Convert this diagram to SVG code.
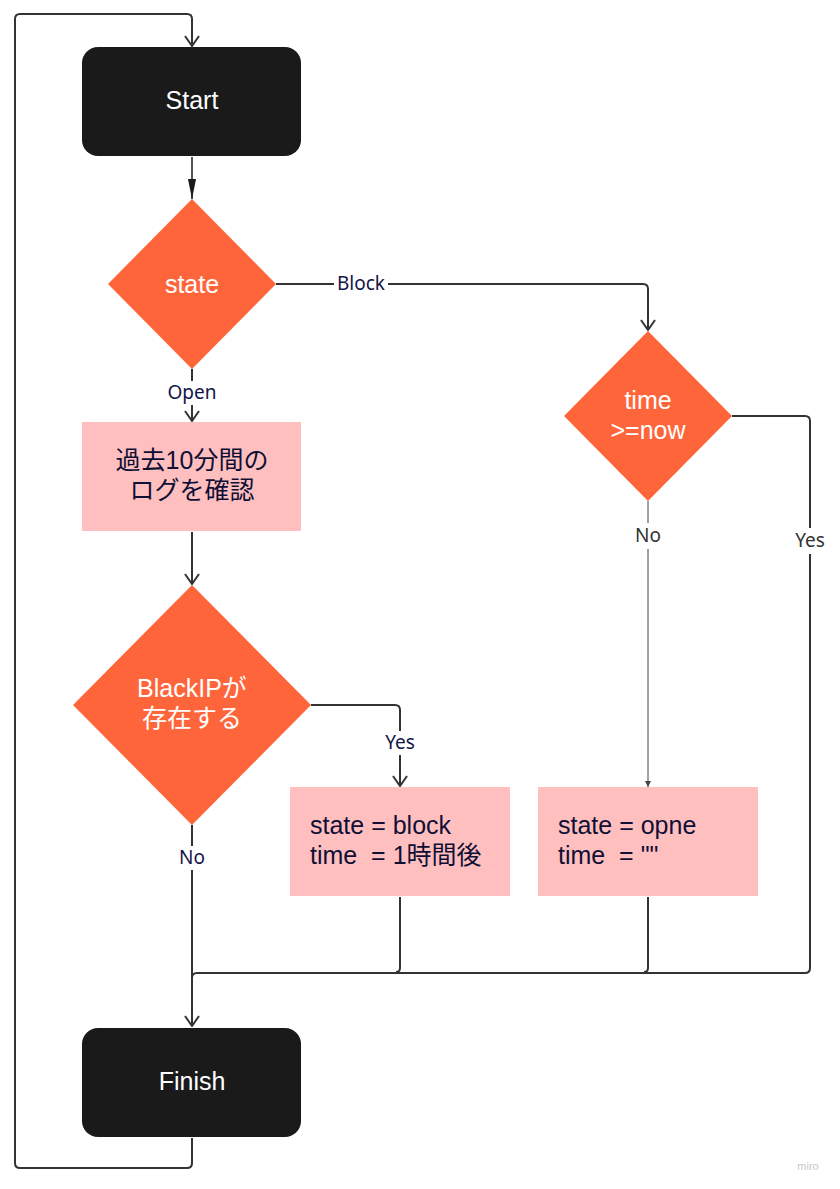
<svg xmlns="http://www.w3.org/2000/svg" width="840" height="1189" viewBox="0 0 840 1189">
<defs>
<style>
.term{fill:#1a1a1a}
.dec{fill:#ff653b}
.proc{fill:#ffbfbf}
.tw{fill:#ffffff;font-family:"Liberation Sans","Noto Sans CJK JP",sans-serif;font-size:25px;text-anchor:middle}
.tb{fill:#0f0f35;font-family:"Liberation Sans","Noto Sans CJK JP",sans-serif;font-size:25px}
.lbl{fill:#14144a;font-family:"Noto Sans","Noto Sans CJK JP",sans-serif;font-size:19px;text-anchor:middle}
.lblg{fill:#333333;font-family:"Noto Sans",sans-serif;font-size:19px;text-anchor:middle}
.ln{fill:none;stroke:#333333;stroke-width:2}
.thin{fill:none;stroke:#444444;stroke-width:1}
.bg{fill:#ffffff}
</style>
<marker id="open" viewBox="0 0 12 16" refX="11" refY="8" markerWidth="12" markerHeight="16" markerUnits="userSpaceOnUse" orient="auto">
<path d="M1,1 L11,8 L1,15" fill="none" stroke="#333333" stroke-width="2"/>
</marker>
<marker id="solid" viewBox="0 0 20 10" refX="20" refY="5" markerWidth="20" markerHeight="10" markerUnits="userSpaceOnUse" orient="auto">
<path d="M0,1 L20,5 L0,9 Z" fill="#1a1a1a"/>
</marker>
<marker id="small" viewBox="0 0 6 6" refX="6" refY="3" markerWidth="6" markerHeight="6" markerUnits="userSpaceOnUse" orient="auto">
<path d="M0,0 L6,3 L0,6 Z" fill="#444444"/>
</marker>
</defs>
<rect width="840" height="1189" fill="#ffffff"/>
<g id="connectors">
<path class="ln" d="M192,1138 V1163 Q192,1168 187,1168 H20 Q15,1168 15,1163 V19 Q15,14 20,14 H187 Q192,14 192,19 V46" marker-end="url(#open)"/>
<path d="M192,157 V199" fill="none" stroke="#1a1a1a" stroke-width="1.5" marker-end="url(#solid)"/>
<path class="ln" d="M276,284 H643 Q648,284 648,289 V330" marker-end="url(#open)"/>
<path class="ln" d="M192,369 V421" marker-end="url(#open)"/>
<path class="ln" d="M192,532 V584" marker-end="url(#open)"/>
<path class="ln" d="M311,705 H395 Q400,705 400,710 V786" marker-end="url(#open)"/>
<path class="ln" d="M192,825 V1026" marker-end="url(#open)"/>
<path class="thin" d="M648,501 V787" marker-end="url(#small)"/>
<path class="ln" d="M732,416 H805 Q810,416 810,421 V968 Q810,973 805,973 H197 Q192,973 192,978"/>
<path class="ln" d="M400,897 V968 Q400,972 396,972"/>
<path class="ln" d="M648,897 V968 Q648,972 644,972"/>
<rect class="bg" x="334" y="273" width="54" height="22"/>
<text class="lbl" x="361" y="290">Block</text>
<rect class="bg" x="162" y="381" width="60" height="24"/>
<text class="lbl" x="192" y="399">Open</text>
<rect class="bg" x="378" y="731" width="44" height="24"/>
<text class="lbl" x="400" y="749">Yes</text>
<rect class="bg" x="172" y="846" width="40" height="24"/>
<text class="lbl" x="192" y="864">No</text>
<rect class="bg" x="630" y="523" width="36" height="26"/>
<text class="lblg" x="648" y="542">No</text>
<rect class="bg" x="789" y="528" width="42" height="26"/>
<text class="lblg" x="810" y="547">Yes</text>
</g>
<g id="start">
<rect class="term" x="82" y="47" width="219" height="109" rx="16"/>
<text class="tw" x="192" y="109">Start</text>
</g>
<g id="state">
<polygon class="dec" points="192,199 276,284 192,369 108,284"/>
<text class="tw" x="192" y="293">state</text>
</g>
<g id="checklog">
<rect class="proc" x="82" y="422" width="219" height="109"/>
<text class="tb" x="192" y="469" text-anchor="middle">過去10分間の</text>
<text class="tb" x="192" y="499" text-anchor="middle">ログを確認</text>
</g>
<g id="blackip">
<polygon class="dec" points="192,585 311,705 192,825 73,705"/>
<text class="tw" x="192" y="697">BlackIPが</text>
<text class="tw" x="192" y="727">存在する</text>
</g>
<g id="setblock">
<rect class="proc" x="290" y="787" width="220" height="109"/>
<text class="tb" x="310" y="834" xml:space="preserve">state = block</text>
<text class="tb" x="310" y="864" xml:space="preserve">time  = 1時間後</text>
</g>
<g id="timecheck">
<polygon class="dec" points="648,331 732,416 648,501 564,416"/>
<text class="tw" x="648" y="409">time</text>
<text class="tw" x="648" y="439">&gt;=now</text>
</g>
<g id="setopen">
<rect class="proc" x="538" y="787" width="220" height="109"/>
<text class="tb" x="558" y="834" xml:space="preserve">state = opne</text>
<text class="tb" x="558" y="864" xml:space="preserve">time  = ""</text>
</g>
<g id="finish">
<rect class="term" x="82" y="1028" width="219" height="109" rx="16"/>
<text class="tw" x="192" y="1090">Finish</text>
</g>
<text x="808" y="1170" fill="#c8c8c8" font-family="Liberation Sans, sans-serif" font-size="11" text-anchor="middle">miro</text>
</svg>
